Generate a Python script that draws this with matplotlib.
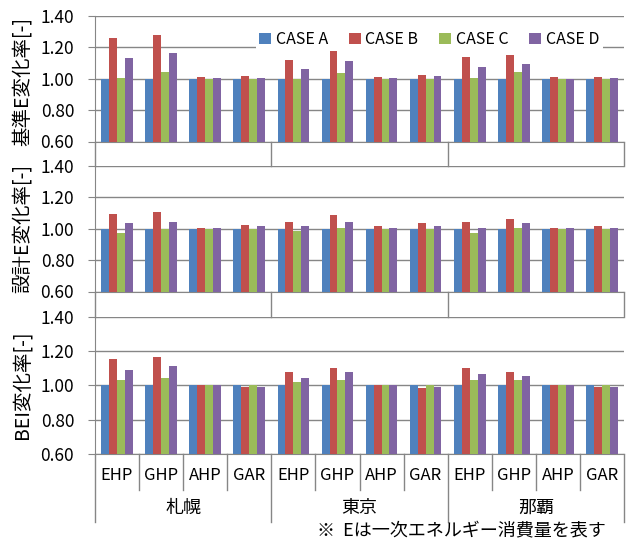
import numpy as np
import matplotlib
matplotlib.use("Agg")
import matplotlib.pyplot as plt
from matplotlib.lines import Line2D
from matplotlib.transforms import blended_transform_factory

plt.rcParams['font.family'] = ['Noto Sans CJK JP', 'DejaVu Sans']

cities = ['札幌', '東京', '那覇']
systems = ['EHP', 'GHP', 'AHP', 'GAR']
cases = ['CASE A', 'CASE B', 'CASE C', 'CASE D']
colors = ['#4F81BD', '#C0504D', '#9BBB59', '#8064A2']
ylabels = ['基準E変化率[-]', '設計E変化率[-]', 'BEI変化率[-]']
yticks = [0.60, 0.80, 1.00, 1.20, 1.40]
note = '※  Eは一次エネルギー消費量を表す'

# 基準E
kijun_a = [1.00] * 12
kijun_b = [1.26, 1.28, 1.01, 1.015, 1.12, 1.195, 1.01, 1.025, 1.14, 1.15, 1.01, 1.01]
kijun_c = [1.005, 1.045, 1.00, 1.00, 1.00, 1.035, 1.00, 1.00, 1.005, 1.04, 1.00, 1.00]
kijun_d = [1.13, 1.165, 1.005, 1.005, 1.065, 1.11, 1.005, 1.015, 1.075, 1.095, 1.00, 1.005]
# 設計E
sekkei_a = [1.00] * 12
sekkei_b = [1.095, 1.105, 1.005, 1.025, 1.045, 1.085, 1.015, 1.035, 1.045, 1.065, 1.005, 1.015]
sekkei_c = [0.975, 1.00, 1.00, 1.00, 0.985, 1.005, 1.00, 1.00, 0.975, 1.005, 1.00, 1.00]
sekkei_d = [1.035, 1.045, 1.005, 1.015, 1.015, 1.045, 1.005, 1.015, 1.005, 1.035, 1.005, 1.005]
# BEI
bei_a = [1.00] * 12
bei_b = [1.155, 1.165, 1.00, 0.99, 1.08, 1.10, 1.00, 0.985, 1.10, 1.08, 1.00, 0.99]
bei_c = [1.03, 1.045, 1.00, 1.00, 1.02, 1.03, 1.00, 1.00, 1.03, 1.03, 1.00, 1.00]
bei_d = [1.09, 1.11, 1.00, 0.99, 1.045, 1.075, 1.00, 0.99, 1.065, 1.055, 1.00, 0.99]

panels = [[kijun_a, kijun_b, kijun_c, kijun_d],
          [sekkei_a, sekkei_b, sekkei_c, sekkei_d],
          [bei_a, bei_b, bei_c, bei_d]]

W, H = 630, 546
fig = plt.figure(figsize=(W / 100, H / 100), dpi=100)
gray = '#868686'


def fx(px):
    return px / W


def fy(py):
    return 1 - py / H


left, right = 95, 624
# (top, bottom) of each panel in pixels
spans = [(16, 141.5), (166, 291.5), (316.5, 454)]
label_y = [82, 228, 385]
n = len(cities) * len(systems)
x = np.arange(n)
bw = 0.18

axes = []
for k, (t, b) in enumerate(spans):
    ax = fig.add_axes([fx(left), fy(b), fx(right) - fx(left), fy(t) - fy(b)])
    for j, vals in enumerate(panels[k]):
        ax.bar(x + (j - 1.5) * bw, vals, bw, color=colors[j], label=cases[j], zorder=3)
    ax.set_xlim(-0.5, n - 0.5)
    ax.set_ylim(0.6, 1.4)
    ax.set_yticks(yticks)
    ax.set_yticklabels(['%.2f' % v for v in yticks], fontsize=12.5)
    ax.yaxis.grid(True, color=gray, lw=1, zorder=0)
    ax.set_xticks([])
    for s in ['top', 'right']:
        ax.spines[s].set_visible(False)
    for s in ['left', 'bottom']:
        ax.spines[s].set_color(gray)
    ax.tick_params(axis='y', length=5, color=gray, pad=10)
    fig.text(fx(22), fy(label_y[k]), ylabels[k], rotation=90, fontsize=14,
             ha='center', va='center')
    axes.append(ax)

# empty category bands between panels
for k in range(2):
    ytop = spans[k][1]
    ybot = spans[k + 1][0]
    for gx in [-0.5, 3.5, 7.5, 11.5]:
        px = left + (gx + 0.5) / n * (right - left)
        fig.add_artist(Line2D([fx(px), fx(px)], [fy(ytop), fy(ybot)], color=gray, lw=1))

# bottom category axis
ax = axes[2]
trans = blended_transform_factory(ax.transData, fig.transFigure)
yb = spans[2][1]
for i in range(n + 1):
    gx = i - 0.5
    end = 522 if i % 4 == 0 else 490
    ax.add_artist(Line2D([gx, gx], [fy(yb), fy(end)], transform=trans, color=gray,
                         lw=1, clip_on=False))
for i in range(n):
    ax.text(i, fy(476), systems[i % 4], transform=trans, ha='center', va='center',
            fontsize=12)
for c, city in enumerate(cities):
    ax.text(c * 4 + 1.5, fy(508), city, transform=trans, ha='center', va='center',
            fontsize=13)

fig.text(fx(606), fy(531), note, ha='right', va='center', fontsize=13)

axes[0].legend(loc='upper right', bbox_to_anchor=(0.975, 0.97), ncol=4, fontsize=11.5,
               frameon=True, facecolor='white', edgecolor='none', framealpha=1,
               handlelength=0.75, handleheight=0.75, handletextpad=0.3,
               columnspacing=1.3, borderpad=0.2)

fig.savefig('out.png', dpi=100)
